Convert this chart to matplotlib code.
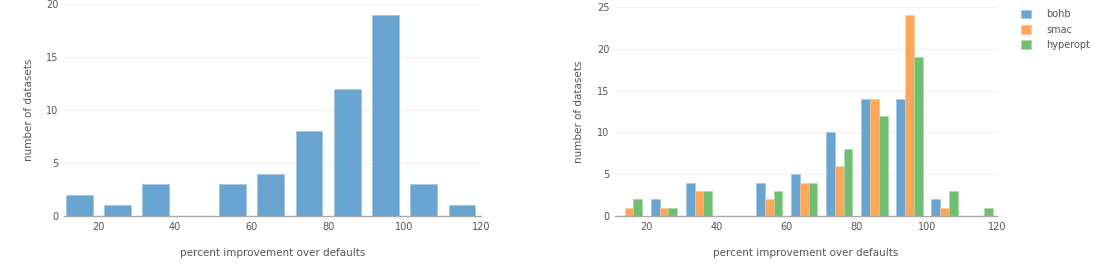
import numpy as np
import matplotlib
matplotlib.use("Agg")
import matplotlib.pyplot as plt

# bin centres (width 10) and counts per bin
bin_centers = [15, 25, 35, 45, 55, 65, 75, 85, 95, 105, 115]
single_counts = [2, 1, 3, 0, 3, 4, 8, 12, 19, 3, 1]

series_names = ["bohb", "smac", "hyperopt"]
bohb_counts = [0, 2, 4, 0, 4, 5, 10, 14, 14, 2, 0]
smac_counts = [1, 1, 3, 0, 2, 4, 6, 14, 24, 1, 0]
hyperopt_counts = [2, 1, 3, 0, 3, 4, 8, 12, 19, 3, 1]

x_ticks = [20, 40, 60, 80, 100, 120]
colors = ["#69a3d0", "#fea65a", "#70bf70"]
edges = ["#9cc3e2", "#ffc794", "#a6d8a6"]
grey = "#555555"


def style(ax, ymax, yticks):
    ax.set_xlim(11.0, 119.6)
    ax.set_ylim(0, ymax)
    ax.set_xticks(x_ticks)
    ax.set_yticks(yticks)
    for s in ("top", "right", "left"):
        ax.spines[s].set_visible(False)
    ax.spines["bottom"].set_color("#aaaaaa")
    ax.spines["bottom"].set_linewidth(1.0)
    ax.tick_params(axis="both", length=0, labelsize=7, colors=grey, pad=4)
    ax.yaxis.grid(True, color="#f0f0f0", lw=0.8)
    ax.set_axisbelow(True)
    ax.set_xlabel("percent improvement over defaults", fontsize=7.5, color=grey, labelpad=12)
    ax.set_ylabel("number of datasets", fontsize=7.5, color=grey, labelpad=9)


fig = plt.figure(figsize=(10.95, 2.67), dpi=100)
axl = fig.add_axes([0.0584, 0.191, 0.381, 0.794])
axr = fig.add_axes([0.5616, 0.191, 0.349, 0.783])

axl.bar(bin_centers, single_counts, width=7.0, color=colors[0],
        edgecolor=edges[0], linewidth=0.4)
style(axl, 20, [0, 5, 10, 15, 20])

w = 2.5
for i, (name, vals) in enumerate(zip(series_names, [bohb_counts, smac_counts, hyperopt_counts])):
    xs = np.array(bin_centers) + (i - 1) * w
    axr.bar(xs, vals, width=w, color=colors[i], edgecolor=edges[i], linewidth=0.4, label=name)
style(axr, 25, [0, 5, 10, 15, 20, 25])

leg = axr.legend(loc="upper left", bbox_to_anchor=(1.04, 1.03), frameon=False,
                 fontsize=7, handlelength=1.0, handleheight=1.0, handletextpad=1.6,
                 labelspacing=0.55)
for t in leg.get_texts():
    t.set_color(grey)

fig.savefig("out.png", dpi=100)
